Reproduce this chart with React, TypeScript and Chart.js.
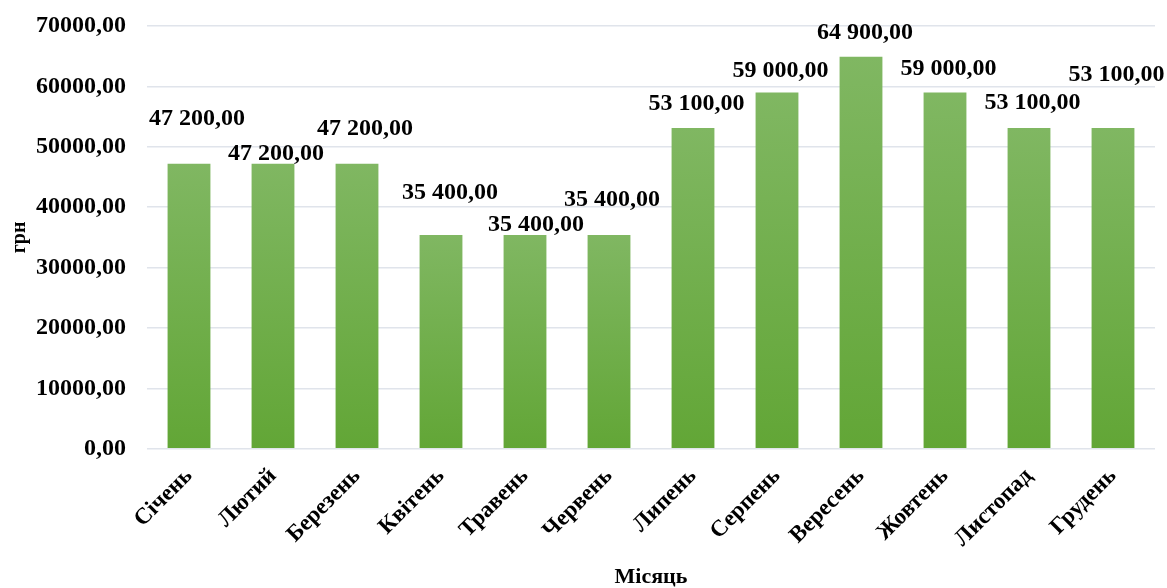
import React, { useEffect, useRef } from "react";
import { Chart, registerables } from "chart.js";

Chart.register(...registerables);

const categories = [
  "Січень", "Лютий", "Березень", "Квітень", "Травень", "Червень",
  "Липень", "Серпень", "Вересень", "Жовтень", "Листопад", "Грудень",
];
const values = [47200, 47200, 47200, 35400, 35400, 35400, 53100, 59000, 64900, 59000, 53100, 53100];
const yAxisTitle = "грн";
const xAxisTitle = "Місяць";

// label placement tweaks (pixels, relative to bar top centre)
const labelOffsets: [number, number][] = [
  [8, -45], [3, -10], [8, -35], [9, -42], [11, -10], [3, -35],
  [3.5, -24], [3.5, -22], [4, -24], [3.5, -24], [3.5, -25], [3.5, -53],
];

const FONT = "'Liberation Serif', 'Times New Roman', serif";

function fmtTick(v: number) {
  return v.toFixed(2).replace(".", ",");
}
function fmtLabel(v: number) {
  const [i, d] = v.toFixed(2).split(".");
  return i.replace(/\B(?=(\d{3})+(?!\d))/g, " ") + "," + d;
}

const labelPlugin = {
  id: "barLabels",
  afterDatasetsDraw(chart: any) {
    const ctx = chart.ctx;
    const meta = chart.getDatasetMeta(0);
    ctx.save();
    ctx.font = `bold 24px ${FONT}`;
    ctx.fillStyle = "#000";
    ctx.textAlign = "center";
    ctx.textBaseline = "middle";
    meta.data.forEach((el: any, i: number) => {
      const [dx, dy] = labelOffsets[i] || [0, -20];
      ctx.fillText(fmtLabel(values[i]), el.x + dx, el.y + dy);
    });
    ctx.restore();
  },
};

const zeroPad = (s: any) => {
  s.paddingLeft = 0;
  s.paddingRight = 0;
  s.paddingTop = 0;
  s.paddingBottom = 0;
};

export default function App() {
  const ref = useRef<HTMLCanvasElement>(null);
  useEffect(() => {
    document.body.style.margin = "0";
    const chart = new Chart(ref.current!, {
      type: "bar",
      data: {
        labels: categories,
        datasets: [
          {
            data: values,
            categoryPercentage: 1,
            barPercentage: 0.51,
            backgroundColor: (c: any) => {
              const ch = c.chart;
              const y = ch.scales?.y;
              if (!y || c.raw == null) return "#70ad47";
              const top = y.getPixelForValue(c.raw);
              const bot = y.getPixelForValue(0);
              if (!isFinite(top) || !isFinite(bot) || top === bot) return "#70ad47";
              const g = ch.ctx.createLinearGradient(0, top, 0, bot);
              g.addColorStop(0, "#80b762");
              g.addColorStop(1, "#62a636");
              return g;
            },
          },
        ],
      },
      options: {
        animation: false,
        responsive: false,
        maintainAspectRatio: false,
        layout: { autoPadding: false, padding: { top: 26, right: 12, left: 4, bottom: -3 } },
        plugins: { legend: { display: false }, tooltip: { enabled: false } },
        scales: {
          x: {
            afterFit: zeroPad,
            grid: { display: false },
            border: { display: false },
            ticks: {
              color: "#000",
              font: { family: FONT, size: 23, weight: "bold" },
              maxRotation: 45,
              minRotation: 45,
              padding: 6,
            },
            title: {
              display: true,
              text: xAxisTitle,
              color: "#000",
              font: { family: FONT, size: 22, weight: "bold" },
              padding: { top: 6, bottom: 0 },
            },
          },
          y: {
            afterFit: (s: any) => {
              zeroPad(s);
              s.width = 143;
            },
            min: 0,
            max: 70000,
            grid: { color: "#e0e4eb", lineWidth: 1.5, drawTicks: false },
            border: { display: false },
            ticks: {
              stepSize: 10000,
              color: "#000",
              padding: 21,
              font: { family: FONT, size: 24, weight: "bold" },
              callback: (v: any) => fmtTick(Number(v)),
            },
            title: {
              display: true,
              text: yAxisTitle,
              color: "#000",
              font: { family: FONT, size: 20, weight: "bold" },
              padding: { top: 4, bottom: 6 },
            },
          },
        },
      },
      plugins: [labelPlugin],
    });
    return () => chart.destroy();
  }, []);
  return (
    <div style={{ width: 1167, height: 588 }}>
      <canvas ref={ref} width={1167} height={588} style={{ display: "block" }} />
    </div>
  );
}
